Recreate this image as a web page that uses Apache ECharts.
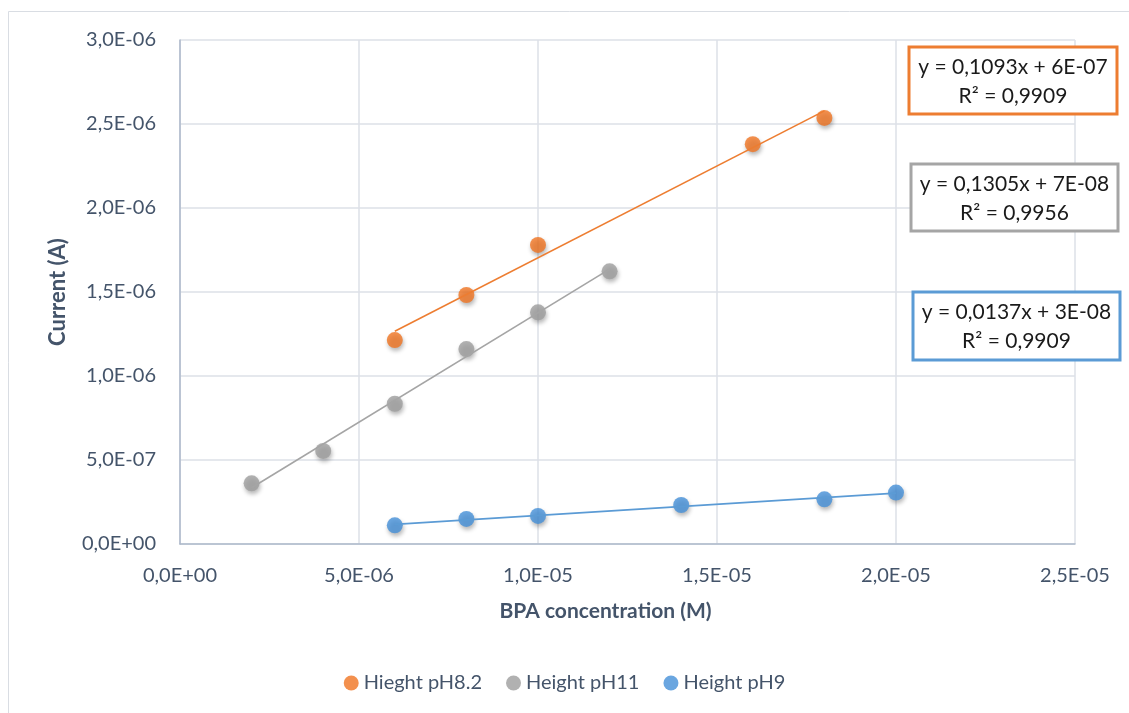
<!DOCTYPE html>
<html>
<head>
<meta charset="utf-8">
<script src="https://cdn.jsdelivr.net/npm/echarts@6/dist/echarts.min.js"></script>
<style>
  html, body { margin: 0; padding: 0; background: #fff; }
  #chart { width: 1129px; height: 713px; }
</style>
</head>
<body>
<div id="chart"></div>
<script>
// BPA concentration (M) for each measurement series
const concPH82 = [6e-6, 8e-6, 1e-5, 1.6e-5, 1.8e-5];
const concPH11 = [2e-6, 4e-6, 6e-6, 8e-6, 1e-5, 1.2e-5];
const concPH9  = [6e-6, 8e-6, 1e-5, 1.4e-5, 1.8e-5, 2e-5];

// Peak current (A)
const currentPH82 = [1.214e-6, 1.482e-6, 1.78e-6, 2.38e-6, 2.536e-6];
const currentPH11 = [3.61e-7, 5.54e-7, 8.35e-7, 1.16e-6, 1.379e-6, 1.623e-6];
const currentPH9  = [1.11e-7, 1.49e-7, 1.67e-7, 2.32e-7, 2.66e-7, 3.06e-7];

const seriesNames = ['Hieght pH8.2', 'Height pH11', 'Height pH9'];

// Regression equations shown next to the trendlines
const equationLabels = [
  'y = 0,1093x + 6E-07\nR² = 0,9909',
  'y = 0,1305x + 7E-08\nR² = 0,9956',
  'y = 0,0137x + 3E-08\nR² = 0,9909'
];

const markerColors = ['#f07422', '#9d9d9d', '#4590d8'];
const lineColors   = ['#ed7d31', '#a5a5a5', '#5b9bd5'];

const FONT = 'Lato, "Open Sans", sans-serif';
const TEXT = '#44546a';

function pairs(xs, ys) { return xs.map((x, i) => [x, ys[i]]); }

// Least-squares line through a series, drawn across its x range
function trend(xs, ys) {
  const n = xs.length;
  const mx = xs.reduce((a, b) => a + b, 0) / n;
  const my = ys.reduce((a, b) => a + b, 0) / n;
  let sxy = 0, sxx = 0;
  for (let i = 0; i < n; i++) {
    sxy += (xs[i] - mx) * (ys[i] - my);
    sxx += (xs[i] - mx) * (xs[i] - mx);
  }
  const k = sxy / sxx, b = my - k * mx;
  const x0 = Math.min(...xs), x1 = Math.max(...xs);
  return [[x0, k * x0 + b], [x1, k * x1 + b]];
}

// Scientific tick format with a decimal comma: 2,5E-06
function sci(v) {
  if (v === 0) return '0,0E+00';
  let e = Math.floor(Math.log10(Math.abs(v)) + 1e-9);
  let m = Math.round(v / Math.pow(10, e) * 10) / 10;
  if (Math.abs(m) >= 10) { m /= 10; e += 1; }
  const es = (e < 0 ? '-' : '+') + String(Math.abs(e)).padStart(2, '0');
  return m.toFixed(1).replace('.', ',') + 'E' + es;
}

const xs = [concPH82, concPH11, concPH9];
const ys = [currentPH82, currentPH11, currentPH9];

const series = [];
for (let i = 0; i < 3; i++) {
  series.push({
    name: seriesNames[i],
    type: 'scatter',
    symbol: 'circle',
    symbolSize: 16,
    z: 2,
    itemStyle: {
      color: markerColors[i],
      shadowBlur: 4,
      shadowColor: 'rgba(0,0,0,0.35)',
      shadowOffsetX: 1,
      shadowOffsetY: 3
    },
    data: pairs(xs[i], ys[i])
  });
}
for (let i = 0; i < 3; i++) {
  series.push({
    name: seriesNames[i] + ' trend',
    type: 'line',
    symbol: 'none',
    z: 3,
    silent: true,
    lineStyle: { color: lineColors[i], width: 1.6 },
    data: trend(xs[i], ys[i])
  });
}

// Equation boxes (pixel positions of the annotation frames)
const boxes = [
  { x: 909, y: 47, w: 208, h: 67 },
  { x: 911, y: 164, w: 207, h: 67 },
  { x: 913, y: 292, w: 207, h: 68 }
];
const graphic = [
  // chart area frame (left and top edges inside the view)
  { type: 'rect', shape: { x: 8.5, y: 11.5, width: 1200, height: 800 },
    style: { fill: 'none', stroke: '#d9dde3', lineWidth: 1 }, z: 0 }
];
boxes.forEach((b, i) => {
  graphic.push({
    type: 'rect', z: 10,
    shape: { x: b.x, y: b.y, width: b.w, height: b.h },
    style: { fill: '#fff', stroke: lineColors[i], lineWidth: 3 }
  });
  graphic.push({
    type: 'text', z: 11,
    x: b.x + b.w / 2, y: b.y + b.h / 2 + 1,
    style: {
      text: equationLabels[i],
      font: '21px ' + FONT,
      fill: '#1a1a1a',
      align: 'center',
      verticalAlign: 'middle',
      lineHeight: 29
    }
  });
});

const chart = echarts.init(document.getElementById('chart'), null, { renderer: 'canvas' });
chart.setOption({
  animation: false,
  backgroundColor: '#fff',
  textStyle: { fontFamily: FONT },
  grid: { left: 180, right: 54, top: 40, bottom: 169, containLabel: false },
  legend: {
    data: seriesNames,
    bottom: 15,
    left: 'center',
    icon: 'circle',
    itemWidth: 15,
    itemHeight: 15,
    itemGap: 24,
    textStyle: { color: TEXT, fontSize: 20, fontFamily: FONT }
  },
  xAxis: {
    type: 'value',
    min: 0, max: 2.5e-5, interval: 5e-6,
    name: 'BPA concentration (M)',
    nameLocation: 'middle',
    nameGap: 57,
    nameTextStyle: { color: TEXT, fontSize: 21, fontWeight: 'bold', fontFamily: FONT, padding: [0, 44, 0, 0] },
    axisLine: { show: true, lineStyle: { color: '#adb9ca', width: 1.5 } },
    axisTick: { show: false },
    axisLabel: { color: TEXT, fontSize: 20, margin: 22, formatter: sci },
    splitLine: { show: true, lineStyle: { color: '#dde1e7', width: 1.5 } }
  },
  yAxis: {
    type: 'value',
    min: 0, max: 3e-6, interval: 5e-7,
    name: 'Current (A)',
    nameLocation: 'middle',
    nameGap: 111,
    nameRotate: 90,
    nameTextStyle: { color: TEXT, fontSize: 22, fontWeight: 'bold', fontFamily: FONT },
    axisLine: { show: true, lineStyle: { color: '#adb9ca', width: 1.5 } },
    axisTick: { show: false },
    axisLabel: { color: TEXT, fontSize: 20, margin: 24, formatter: sci },
    splitLine: { show: true, lineStyle: { color: '#dde1e7', width: 1.5 } }
  },
  graphic: graphic,
  series: series
});
</script>
</body>
</html>
